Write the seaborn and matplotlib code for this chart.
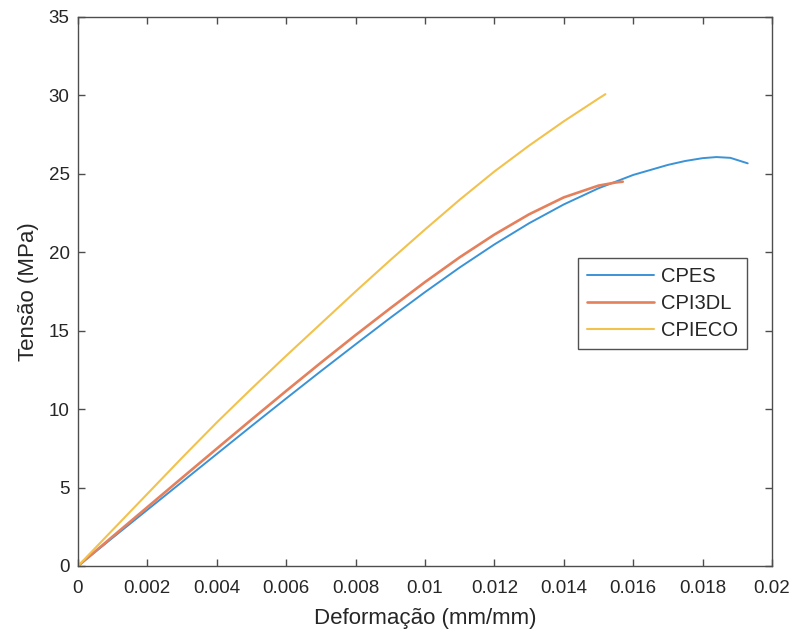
import numpy as np
import pandas as pd
import matplotlib
matplotlib.use("Agg")
import matplotlib.pyplot as plt
import seaborn as sns

# ---- data ----
cpes_x = [0, 0.001, 0.002, 0.003, 0.004, 0.005, 0.006, 0.007, 0.008, 0.009, 0.010,
          0.011, 0.012, 0.013, 0.014, 0.015, 0.016, 0.017, 0.0175, 0.018, 0.0184,
          0.0188, 0.019, 0.0193]
cpes_y = [0, 1.8, 3.58, 5.36, 7.14, 8.92, 10.68, 12.42, 14.13, 15.82, 17.46,
          19.03, 20.5, 21.85, 23.05, 24.08, 24.93, 25.57, 25.82, 26.0, 26.07,
          26.02, 25.88, 25.67]

cpi3dl_x = [0, 0.001, 0.002, 0.003, 0.004, 0.005, 0.006, 0.007, 0.008, 0.009, 0.010,
            0.011, 0.012, 0.013, 0.014, 0.015, 0.0155, 0.0157]
cpi3dl_y = [0, 1.88, 3.75, 5.62, 7.48, 9.33, 11.16, 12.96, 14.72, 16.43, 18.1,
            19.68, 21.13, 22.42, 23.5, 24.25, 24.45, 24.5]

cpieco_x = [0, 0.001, 0.002, 0.003, 0.004, 0.005, 0.006, 0.007, 0.008, 0.009, 0.010,
            0.011, 0.012, 0.013, 0.014, 0.015, 0.0152]
cpieco_y = [0, 2.3, 4.6, 6.9, 9.15, 11.3, 13.4, 15.45, 17.5, 19.5, 21.45,
            23.35, 25.15, 26.8, 28.35, 29.8, 30.08]

series_names = ["CPES", "CPI3DL", "CPIECO"]
x_ticks = [0, 0.002, 0.004, 0.006, 0.008, 0.01, 0.012, 0.014, 0.016, 0.018, 0.02]
x_tick_labels = ["0", "0.002", "0.004", "0.006", "0.008", "0.01", "0.012",
                 "0.014", "0.016", "0.018", "0.02"]
y_ticks = [0, 5, 10, 15, 20, 25, 30, 35]

df = pd.concat([
    pd.DataFrame({"x": cpes_x, "y": cpes_y, "s": series_names[0]}),
    pd.DataFrame({"x": cpi3dl_x, "y": cpi3dl_y, "s": series_names[1]}),
    pd.DataFrame({"x": cpieco_x, "y": cpieco_y, "s": series_names[2]}),
], ignore_index=True)

sns.set_style("ticks")
plt.rcParams["font.family"] = ["Liberation Sans", "DejaVu Sans"]

palette = {"CPES": "#3A93D6", "CPI3DL": "#E4805C", "CPIECO": "#F2C24E"}

fig = plt.figure(figsize=(7.94, 6.34), dpi=100)
ax = fig.add_axes([0.0982, 0.1073, 0.8741, 0.8659])

sns.lineplot(data=df, x="x", y="y", hue="s", palette=palette, sort=False,
             estimator=None, ax=ax, linewidth=1.6)
for line, lw in zip(ax.get_lines(), [1.4, 1.9, 1.5]):
    line.set_linewidth(lw)
    line.set_solid_joinstyle("round")

ax.set_xlim(0, 0.02)
ax.set_ylim(0, 35)
ax.set_xticks(x_ticks)
ax.set_xticklabels(x_tick_labels)
ax.set_yticks(y_ticks)

text_col = "#262626"
ax.tick_params(direction="in", top=True, right=True, length=5, width=1,
               labelsize=13.5, colors="#4d4d4d", labelcolor=text_col)
ax.tick_params(axis="x", pad=10)
ax.tick_params(axis="y", pad=6)
for sp in ax.spines.values():
    sp.set_visible(True)
    sp.set_color("#4d4d4d")
    sp.set_linewidth(1.0)

ax.set_xlabel("Deformação (mm/mm)", fontsize=16, color=text_col, labelpad=8)
ax.set_ylabel("Tensão (MPa)", fontsize=16, color=text_col, labelpad=7)

handles, labels = ax.get_legend_handles_labels()
for h, lw in zip(handles, [1.4, 1.9, 1.5]):
    h.set_linewidth(lw)
leg = ax.legend(handles, labels, loc="upper left", bbox_to_anchor=(0.7205, 0.561),
                fontsize=14.5, frameon=True, fancybox=False, edgecolor="#262626",
                handlelength=3.3, borderpad=0.45, labelspacing=0.4,
                handletextpad=0.35, borderaxespad=0)
leg.get_frame().set_linewidth(1.0)
for t in leg.get_texts():
    t.set_color(text_col)

fig.savefig("out.png", dpi=100, facecolor="white")
